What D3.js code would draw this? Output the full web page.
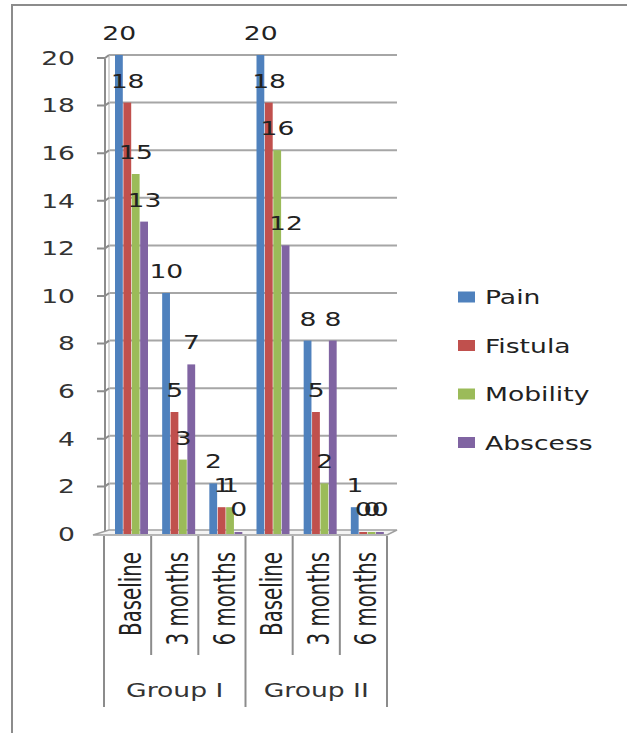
<!DOCTYPE html>
<html>
<head>
<meta charset="utf-8">
<script src="https://cdn.jsdelivr.net/npm/d3@7/dist/d3.min.js"></script>
<style>
  body { margin: 0; background: #fff; }
</style>
</head>
<body>
<div id="chart"></div>
<script>
var groups = ["Group I", "Group II"];
var periods = ["Baseline", "3 months", "6 months"];
var seriesNames = ["Pain", "Fistula", "Mobility", "Abscess"];
// one value per category: Group I (Baseline, 3m, 6m), Group II (Baseline, 3m, 6m)
var pain = [20, 10, 2, 20, 8, 1];
var fistula = [18, 5, 1, 18, 5, 0];
var mobility = [15, 3, 1, 16, 2, 0];
var abscess = [13, 7, 0, 12, 8, 0];
var yTicks = [0, 2, 4, 6, 8, 10, 12, 14, 16, 18, 20];
var colors = ["#4f81bd", "#c0504d", "#9bbb59", "#8064a2"];

var seriesValues = [pain, fistula, mobility, abscess];
var W = 627, H = 733;
var SX = 1.4; // the picture is stretched sideways, text too

var svg = d3.select("#chart").append("svg")
    .attr("width", W)
    .attr("height", H);

svg.append("rect").attr("width", W).attr("height", H).attr("fill", "#fff");

// outer frame
svg.append("rect")
    .attr("x", 12).attr("y", 5)
    .attr("width", W + 20).attr("height", H + 20)
    .attr("fill", "none")
    .attr("stroke", "#8c8c8c")
    .attr("stroke-width", 2);

var cats = d3.range(6);
var x0 = d3.scaleBand().domain(cats).range([104, 387]);
var x1 = d3.scaleBand().domain(seriesNames).range([11, 44.6]);
var y = d3.scaleLinear().domain([0, 20]).range([531, 55]);
var front = 3; // front edge sits a little below the back wall

function stretch(x, yy, extra) {
    return "translate(" + x + "," + yy + ") scale(" + SX + ",1)" + (extra || "");
}

var gridColor = "#a6a6a6";

// back wall gridlines
svg.append("g").selectAll("line")
    .data(yTicks.filter(function(d){ return d > 0; }))
    .enter().append("line")
    .attr("x1", 109).attr("x2", 397)
    .attr("y1", function(d){ return y(d); })
    .attr("y2", function(d){ return y(d); })
    .attr("stroke", gridColor)
    .attr("stroke-width", 2);

// side wall edges
svg.append("line").attr("x1", 109).attr("x2", 109)
    .attr("y1", y(20)).attr("y2", y(0))
    .attr("stroke", "#c8c8c8").attr("stroke-width", 1.5);
svg.append("line").attr("x1", 105).attr("x2", 105)
    .attr("y1", y(20) + front + 1).attr("y2", y(0) + front + 1)
    .attr("stroke", "#8c8c8c").attr("stroke-width", 2);
svg.append("g").selectAll("path")
    .data(yTicks)
    .enter().append("path")
    .attr("d", function(d){
        return "M97," + (y(d) + front) + "H105L109," + y(d);
    })
    .attr("fill", "none")
    .attr("stroke", "#8c8c8c")
    .attr("stroke-width", 2);

// floor
svg.append("path")
    .attr("d", "M93," + (y(0) + front + 1) + "H387L397," + (y(0) - 1) + "H109Z")
    .attr("fill", "#f4f4f4")
    .attr("stroke", "#a0a0a0")
    .attr("stroke-width", 1.5);

// y tick labels
svg.append("g").selectAll("text")
    .data(yTicks)
    .enter().append("text")
    .attr("transform", function(d){ return stretch(75, y(d) + front); })
    .attr("dy", "0.36em")
    .attr("text-anchor", "end")
    .attr("font-family", "DejaVu Sans, sans-serif")
    .attr("font-size", 19)
    .attr("fill", "#333")
    .text(function(d){ return d; });

// bars
var barData = [];
seriesValues.forEach(function(vals, s){
    vals.forEach(function(v, c){
        barData.push({ s: s, c: c, v: v });
    });
});

svg.append("g").selectAll("rect")
    .data(barData)
    .enter().append("rect")
    .attr("x", function(d){ return x0(d.c) + x1(seriesNames[d.s]); })
    .attr("width", x1.bandwidth() - 0.6)
    .attr("y", function(d){ return d.v > 0 ? y(d.v) : y(0) + 1; })
    .attr("height", function(d){ return d.v > 0 ? y(0) + front - y(d.v) : 2; })
    .attr("fill", function(d){ return colors[d.s]; });

// value labels
svg.append("g").selectAll("text")
    .data(barData)
    .enter().append("text")
    .attr("transform", function(d){
        return stretch(x0(d.c) + x1(seriesNames[d.s]) + x1.bandwidth() / 2, y(d.v) - 15);
    })
    .attr("text-anchor", "middle")
    .attr("font-family", "DejaVu Sans, sans-serif")
    .attr("font-size", 19)
    .attr("fill", "#222")
    .text(function(d){ return d.v; });

// category separators
var bounds = d3.range(7).map(function(i){ return i < 6 ? x0(i) : x0(5) + x0.bandwidth(); });
svg.append("g").selectAll("line")
    .data(bounds)
    .enter().append("line")
    .attr("x1", function(d){ return d; })
    .attr("x2", function(d){ return d; })
    .attr("y1", y(0) + front + 2)
    .attr("y2", function(d, i){ return i % 3 === 0 ? 707 : 655; })
    .attr("stroke", "#8c8c8c")
    .attr("stroke-width", 2);

// period labels (rotated)
svg.append("g").selectAll("text")
    .data(cats)
    .enter().append("text")
    .attr("transform", function(c){
        return "translate(" + (x0(c) + x0.bandwidth() / 2 + 13) + ",552) scale(" + SX + ",1) rotate(-90)";
    })
    .attr("text-anchor", "end")
    .attr("font-family", "DejaVu Sans Condensed, sans-serif")
    .attr("font-stretch", "condensed")
    .attr("font-size", 22)
    .attr("fill", "#222")
    .text(function(c){ return periods[c % 3]; });

// group labels
svg.append("g").selectAll("text")
    .data(groups)
    .enter().append("text")
    .attr("transform", function(g, i){
        return stretch((bounds[i * 3] + bounds[i * 3 + 3]) / 2, 697);
    })
    .attr("text-anchor", "middle")
    .attr("font-family", "DejaVu Sans, sans-serif")
    .attr("font-size", 19)
    .attr("fill", "#333")
    .text(function(g){ return g; });

// legend
var legend = svg.append("g").selectAll("g")
    .data(seriesNames)
    .enter().append("g")
    .attr("transform", function(d, i){ return "translate(0," + (297 + i * 48.5) + ")"; });
legend.append("rect")
    .attr("x", 458).attr("y", -5.5)
    .attr("width", 17).attr("height", 11)
    .attr("fill", function(d, i){ return colors[i]; });
legend.append("text")
    .attr("transform", stretch(485, 7))
    .attr("font-family", "DejaVu Sans, sans-serif")
    .attr("font-size", 19)
    .attr("fill", "#222")
    .text(function(d){ return d; });
</script>
</body>
</html>
